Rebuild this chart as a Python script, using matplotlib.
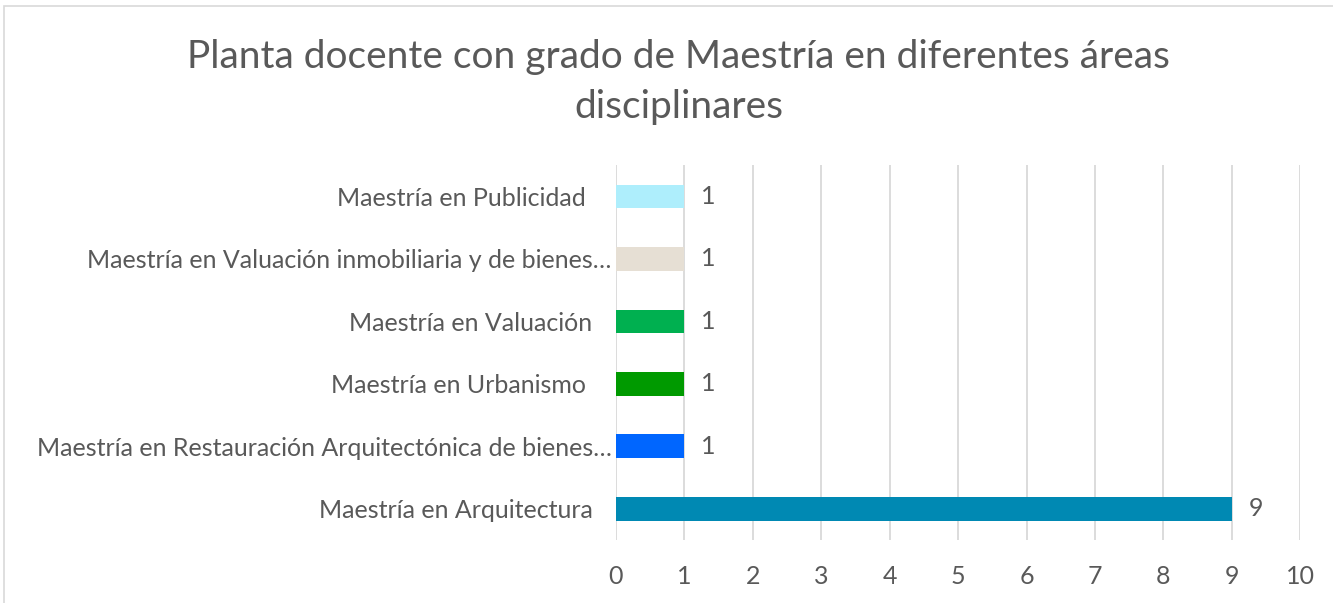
import matplotlib.pyplot as plt
from matplotlib.patches import Rectangle

categorias = [
    "Maestría en Arquitectura   ",
    "Maestría en Restauración Arquitectónica de bienes…",
    "Maestría en Urbanismo    ",
    "Maestría en Valuación   ",
    "Maestría en Valuación inmobiliaria y de bienes…",
    "Maestría en Publicidad    ",
]
valores = [9, 1, 1, 1, 1, 1]
colores = ["#0089B3", "#0066FF", "#009A00", "#00B050", "#E6DFD4", "#AEEEFC"]
ticks_x = list(range(0, 11))

gris = "#595959"
plt.rcParams["font.family"] = ["Lato", "DejaVu Sans"]

fig = plt.figure(figsize=(13.33, 6.03), dpi=100)
ax = fig.add_axes([0.462, 0.1045, 0.5135, 0.6215])

pos = list(range(len(categorias)))
ax.barh(pos, valores, height=0.38, color=colores, zorder=3)
for p, v in zip(pos, valores):
    ax.text(v + 0.25, p, str(v), va="center", ha="left", fontsize=18, color=gris)

ax.set_xlim(0, 10)
ax.set_ylim(-0.5, len(categorias) - 0.5)
ax.set_xticks(ticks_x)
ax.set_yticks(pos)
ax.set_yticklabels(categorias)
ax.tick_params(axis="y", length=0, pad=3, labelsize=18, labelcolor=gris)
ax.tick_params(axis="x", length=0, pad=18, labelsize=18, labelcolor=gris)
ax.grid(axis="x", color="#D9D9D9", linewidth=1.3, zorder=0)
for s in ax.spines.values():
    s.set_visible(False)

fig.text(0.509, 0.905, "Planta docente con grado de Maestría en diferentes áreas",
         ha="center", va="center", fontsize=28, color=gris)
fig.text(0.509, 0.823, "disciplinares", ha="center", va="center", fontsize=28, color=gris)

fig.patches.append(Rectangle((0.003, -0.1), 1.1, 1.09, transform=fig.transFigure,
                             fill=False, edgecolor="#D9D9D9", linewidth=1.2))

fig.savefig("out.png", dpi=100)
